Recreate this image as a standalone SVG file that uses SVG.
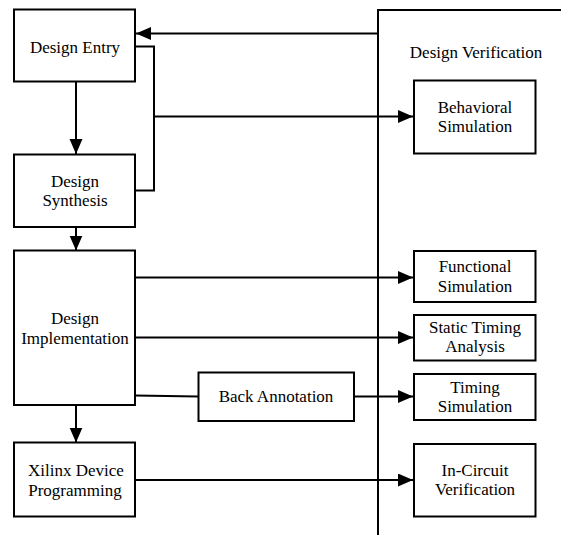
<svg xmlns="http://www.w3.org/2000/svg" width="561" height="535" viewBox="0 0 561 535">
<style>
.box{fill:#fff;stroke:#000;stroke-width:2}
.ln{fill:none;stroke:#000;stroke-width:2}
text{font-family:"Liberation Serif","Times New Roman",serif;font-size:17px;fill:#000;text-anchor:middle}
</style>
<defs>
<marker id="ah" markerUnits="userSpaceOnUse" markerWidth="16" markerHeight="14" refX="15" refY="6.5" orient="auto">
<path d="M0,0 L15,6.5 L0,13 Z" fill="#000"/>
</marker>
</defs>
<rect width="561" height="535" fill="#fff"/>
<g id="verification-region">
<path class="ln" d="M378,535 V10 H561"/>
<text x="476" y="57.5">Design Verification</text>
</g>
<g id="connectors">
<path class="ln" d="M378,33.5 H136" marker-end="url(#ah)"/>
<path class="ln" d="M135,46.5 H154 V190.5 H135"/>
<path class="ln" d="M154,116.5 H413" marker-end="url(#ah)"/>
<path class="ln" d="M76,81 V154" marker-end="url(#ah)"/>
<path class="ln" d="M76,227 V250.5" marker-end="url(#ah)"/>
<path class="ln" d="M135,277.5 H413" marker-end="url(#ah)"/>
<path class="ln" d="M135,337.5 H413" marker-end="url(#ah)"/>
<path class="ln" d="M135,395.5 L198,396.5"/>
<path class="ln" d="M354,396.5 H413" marker-end="url(#ah)"/>
<path class="ln" d="M76,405 V442.5" marker-end="url(#ah)"/>
<path class="ln" d="M135,480 H413" marker-end="url(#ah)"/>
</g>
<g id="design-entry">
<rect class="box" x="14" y="9.5" width="121" height="72"/>
<text x="75" y="52.5">Design Entry</text>
</g>
<g id="design-synthesis">
<rect class="box" x="14" y="154.5" width="121" height="72.5"/>
<text x="75" y="186.5">Design</text>
<text x="75" y="206">Synthesis</text>
</g>
<g id="design-implementation">
<rect class="box" x="14" y="250.5" width="121" height="154.5"/>
<text x="75" y="324">Design</text>
<text x="75" y="344">Implementation</text>
</g>
<g id="xilinx-device-programming">
<rect class="box" x="14" y="442.5" width="121" height="74"/>
<text x="76" y="475.5">Xilinx Device</text>
<text x="75" y="495.5">Programming</text>
</g>
<g id="back-annotation">
<rect class="box" x="198.5" y="372.5" width="155.5" height="48.5"/>
<text x="276" y="401.5">Back Annotation</text>
</g>
<g id="behavioral-simulation">
<rect class="box" x="414" y="80.5" width="121.5" height="73"/>
<text x="475" y="112.5">Behavioral</text>
<text x="475" y="131.5">Simulation</text>
</g>
<g id="functional-simulation">
<rect class="box" x="414" y="251" width="121.5" height="51"/>
<text x="475" y="271.5">Functional</text>
<text x="475" y="291.5">Simulation</text>
</g>
<g id="static-timing-analysis">
<rect class="box" x="414" y="315" width="121.5" height="45.5"/>
<text x="475" y="333">Static Timing</text>
<text x="475" y="352">Analysis</text>
</g>
<g id="timing-simulation">
<rect class="box" x="414" y="374" width="121.5" height="46"/>
<text x="475" y="392.5">Timing</text>
<text x="475" y="411.5">Simulation</text>
</g>
<g id="in-circuit-verification">
<rect class="box" x="414" y="444" width="121.5" height="72.5"/>
<text x="475" y="475.5">In-Circuit</text>
<text x="475" y="495">Verification</text>
</g>
</svg>
